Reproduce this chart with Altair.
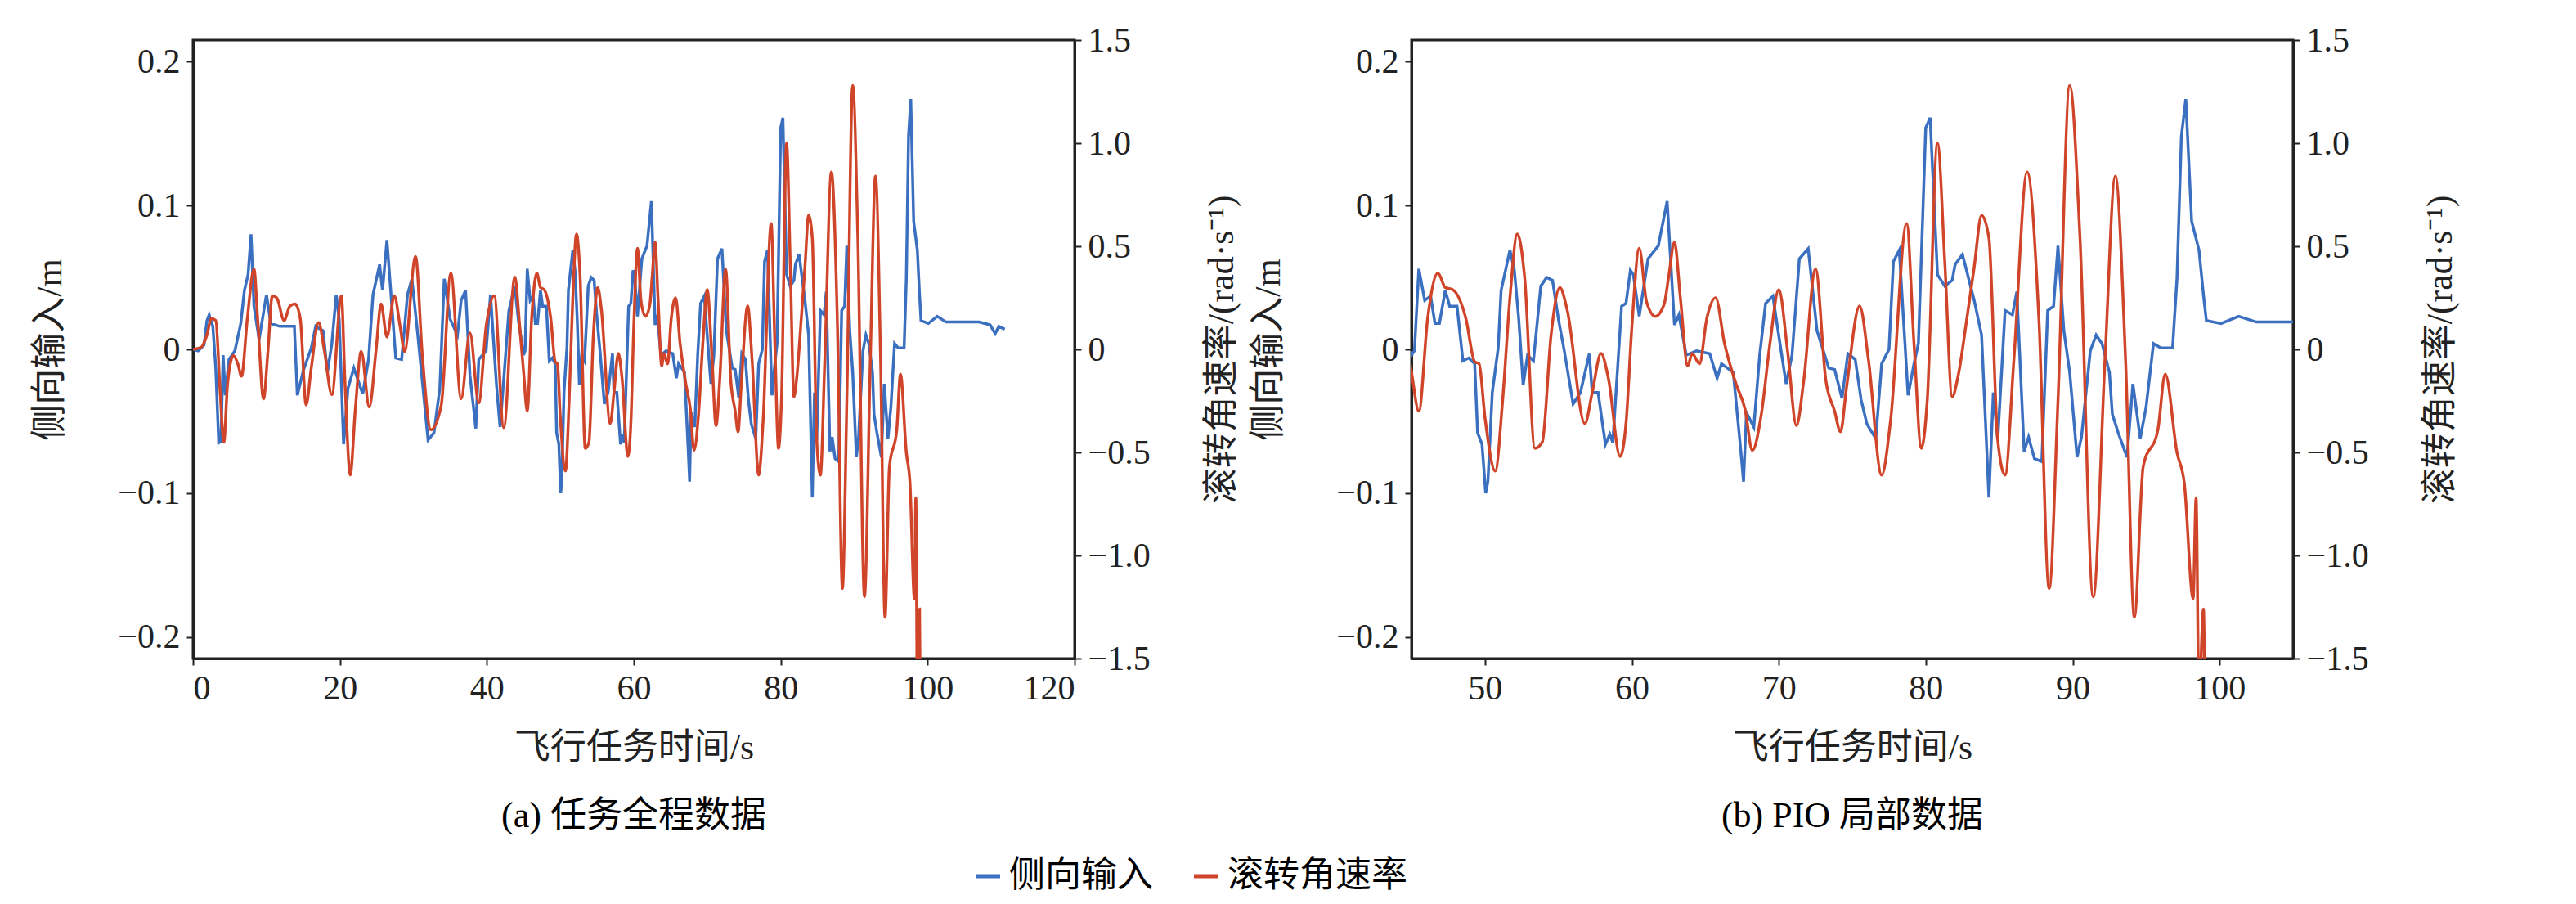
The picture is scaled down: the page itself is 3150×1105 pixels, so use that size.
import altair as alt
import pandas as pd

blue_t = [0,0.7,1.5,1.9,2.2,2.7,3.1,3.5,3.8,4.1,4.4,4.9,5.7,6.5,7.0,7.5,7.9,8.3,9.0,10.0,10.6,11.8,13.8,14.2,15.0,16.1,16.7,17.7,18.3,18.9,19.5,19.9,20.5,21.1,21.9,23.1,23.9,24.5,25.4,25.8,26.4,27.6,28.4,29.2,29.8,30.6,32.0,32.8,33.6,34.2,35.0,36.0,36.5,37.1,37.7,38.5,38.9,39.9,40.5,41.3,41.8,42.3,43.0,43.8,44.3,
          45.0,45.2,45.5,45.9,46.3,46.6,46.9,47.3,47.6,48.1,48.5,48.9,49.3,49.5,49.8,50.05,50.2,50.5,50.9,51.1,51.7,52.0,52.3,52.6,52.9,53.3,53.8,54.2,54.6,55.0,55.4,56.0,56.5,57.1,57.3,57.7,58.2,58.5,58.7,59.3,59.6,59.9,60.1,60.5,61.1,61.8,62.4,62.9,63.2,63.7,64.4,65.3,65.8,66.1,66.9,67.4,67.6,67.8,68.3,68.7,69.1,69.6,69.9,70.5,70.9,71.4,72.0,72.6,73.4,73.8,74.3,74.7,75.2,75.6,76.0,76.6,77.0,77.5,77.8,78.2,78.8,79.2,79.5,80.0,80.3,80.8,81.3,81.8,82.0,82.5,83.3,83.8,84.3,84.6,84.9,85.4,85.9,86.2,86.7,87.0,87.4,87.9,88.3,88.7,89.0,89.4,89.8,90.3,90.6,91.2,91.6,92.0,92.5,92.7,93.1,93.7,94.1,94.6,95.0,95.5,96.0,96.8,97.1,97.4,97.7,98.1,98.6,98.9,99.1,100.1,101.3,102.5,105.0,107.0,108.5,109.2,109.7,110.5]
blue_v = [0,-0.001,0.003,0.020,0.024,0.016,-0.013,-0.065,-0.064,-0.004,-0.032,-0.007,-0.001,0.018,0.041,0.052,0.080,0.030,0.007,0.038,0.018,0.016,0.016,-0.032,-0.015,0.001,0.016,0.013,-0.016,0.004,0.038,0.021,-0.066,-0.027,-0.013,-0.031,-0.007,0.038,0.059,0.041,0.076,-0.006,-0.007,0.038,0.049,0.010,-0.063,-0.058,-0.027,0.049,0.021,0.010,0.034,0.041,-0.018,-0.055,-0.007,-0.001,0.038,-0.024,-0.054,-0.021,0.027,0.044,0.020,
          -0.004,-0.001,0.056,0.034,0.037,0.018,0.018,0.041,0.030,0.030,-0.008,-0.006,-0.010,-0.058,-0.066,-0.100,-0.092,-0.030,0.001,0.041,0.069,0.055,0.021,-0.025,-0.004,-0.008,0.044,0.050,0.048,0.021,-0.001,-0.038,-0.030,-0.003,-0.030,-0.030,-0.066,-0.059,-0.065,0.030,0.032,0.055,0.052,0.023,0.063,0.072,0.103,0.017,0.024,-0.004,-0.001,-0.003,-0.020,-0.010,-0.016,-0.069,-0.092,-0.044,-0.054,-0.004,0.032,0.037,0.016,-0.024,-0.004,0.063,0.070,0.013,-0.013,-0.014,-0.034,-0.003,-0.007,-0.035,-0.052,-0.062,-0.010,0.000,0.061,0.069,-0.032,-0.010,0.004,0.154,0.161,0.052,0.044,0.048,0.059,0.066,0.034,0.010,-0.103,-0.030,-0.063,0.027,0.024,0.040,-0.071,-0.061,-0.076,-0.078,0.027,0.030,0.072,0.013,-0.016,-0.075,-0.061,-0.001,0.010,0.004,-0.016,-0.045,-0.058,-0.075,-0.024,-0.062,-0.040,0.004,0.001,0.001,0.049,0.148,0.174,0.089,0.069,0.038,0.020,0.018,0.023,0.019,0.019,0.019,0.017,0.011,0.016,0.014]

red_t = [0,1.1,1.9,2.5,3.1,3.7,4.2,4.7,5.5,6.1,6.6,7.4,8.3,8.8,9.6,10.2,10.8,11.4,12.4,13.2,13.9,14.6,15.4,16.1,17.1,17.9,18.9,20.2,20.7,21.4,22.1,22.9,24.0,24.9,25.6,26.4,27.4,28.2,28.8,30.3,31.2,32.4,33.8,35.1,36.5,37.7,38.9,39.9,41.0,42.3,43.8,44.5,
         45.0,45.5,46.1,46.8,47.3,47.8,48.7,49.3,49.6,50.0,50.7,51.2,51.7,52.2,52.7,53.4,53.9,54.5,55.1,55.6,56.8,57.3,57.9,58.4,59.2,59.6,60.0,60.5,61.0,61.6,62.2,62.5,62.9,63.3,63.8,64.1,64.6,65.1,65.7,66.3,67.1,67.7,68.2,68.8,69.4,70.0,70.6,71.2,71.7,72.5,73.2,73.8,74.2,74.6,75.5,76.1,77.0,77.6,78.7,79.2,79.7,80.1,80.8,81.3,81.8,82.2,82.8,83.3,83.8,84.3,84.9,85.4,86.0,86.9,87.7,88.4,89.0,89.8,90.5,91.4,92.2,92.9,93.6,94.2,94.8,95.8,96.3,97.1,97.6,98.2,98.4,98.6,98.9,99.0]
red_v = [0,0.01,0.07,0.15,0.14,-0.21,-0.45,-0.17,-0.03,-0.07,-0.13,0.15,0.39,0.15,-0.24,-0.01,0.26,0.25,0.14,0.21,0.22,0.15,-0.27,-0.09,0.13,-0.01,-0.22,0.26,-0.17,-0.61,-0.29,-0.01,-0.28,-0.01,0.22,0.06,0.26,0.11,-0.01,0.45,-0.02,-0.39,-0.27,0.37,-0.24,0.08,-0.26,0.11,0.26,-0.38,0.35,0.10,
         -0.11,-0.30,0.15,0.37,0.30,0.29,0.15,-0.06,-0.07,-0.33,-0.59,-0.25,0.25,0.56,0.35,-0.48,-0.45,0.07,0.30,0.19,-0.36,-0.21,-0.02,-0.14,-0.52,-0.36,0.11,0.49,0.23,0.16,0.22,0.35,0.52,0.25,-0.08,-0.02,-0.07,0.15,0.25,0.03,-0.17,-0.29,-0.49,-0.32,0.03,0.29,-0.01,-0.37,-0.15,0.39,-0.15,-0.30,-0.40,-0.19,0.21,-0.05,-0.61,-0.35,0.61,0.03,-0.48,-0.25,1.00,0.42,-0.23,-0.13,0.15,0.40,0.65,0.54,-0.44,-0.61,-0.05,0.86,0.15,-1.16,-0.25,1.28,0.54,-1.20,-0.05,0.84,-0.05,-1.30,-0.57,-0.39,-0.12,-0.50,-0.65,-1.21,-0.72,-1.70,-1.26,-1.70]

blue_df = pd.DataFrame({"t": blue_t, "v": blue_v, "s": "侧向输入"})
red_df = pd.DataFrame({"t": red_t, "v": red_v, "s": "滚转角速率"})

FONT = "Liberation Serif, Noto Sans CJK SC"
BLUE, RED = "#3b6fc0", "#d0452a"
color = alt.Color("s:N", title=None,
                  scale=alt.Scale(domain=["侧向输入", "滚转角速率"], range=[BLUE, RED]),
                  legend=alt.Legend(orient="none", legendX=950, legendY=1000, direction="horizontal",
                                    symbolType="stroke", symbolStrokeWidth=5, symbolSize=900,
                                    labelFont=FONT, labelFontSize=44, labelLimit=0, columnPadding=40))

lab = "datum.value==0?'0':replace(format(datum.value,'.1f'),'-','−')"

def panel(dom, ticks, caption):
    xenc = alt.X("t:Q", scale=alt.Scale(domain=dom, nice=False, zero=False),
                 axis=alt.Axis(values=ticks, title="飞行任务时间/s", titlePadding=30, format="d"))
    b = alt.Chart(blue_df[(blue_df.t >= dom[0]-1) & (blue_df.t <= dom[1]+1)]).mark_line(
        strokeWidth=3.5, clip=True).encode(
        x=xenc,
        y=alt.Y("v:Q", scale=alt.Scale(domain=[-0.215, 0.215], nice=False),
                axis=alt.Axis(values=[-0.2, -0.1, 0, 0.1, 0.2], labelExpr=lab,
                              title="侧向输入/m", titlePadding=60)),
        color=color)
    r = alt.Chart(red_df[(red_df.t >= dom[0]-1) & (red_df.t <= dom[1]+1)]).mark_line(
        strokeWidth=3.5, clip=True, interpolate="monotone").encode(
        x=xenc,
        y=alt.Y("v:Q", scale=alt.Scale(domain=[-1.5, 1.5], nice=False),
                axis=alt.Axis(orient="right", values=[-1.5, -1.0, -0.5, 0, 0.5, 1.0, 1.5],
                              labelExpr=lab, title="滚转角速率/(rad·s⁻¹)",
                              titleAngle=270, titlePadding=110)),
        color=color)
    return alt.layer(b, r).resolve_scale(y="independent").properties(
        width=1078, height=756,
        title=alt.TitleParams(caption, orient="bottom", offset=40, font=FONT, fontSize=44,
                              fontWeight="normal"))

a = panel([0, 120], [0, 20, 40, 60, 80, 100, 120], "(a) 任务全程数据")
bpanel = panel([45, 105], [50, 60, 70, 80, 90, 100], "(b) PIO 局部数据")

chart = alt.hconcat(a, bpanel, spacing=10).configure_axis(
    labelFont=FONT, titleFont=FONT, labelFontSize=42, titleFontSize=44, titleFontWeight="normal",
    labelColor="#222", titleColor="#222", domainColor="#222", tickColor="#222",
    domainWidth=3, tickWidth=2, tickSize=8, grid=False, labelPadding=8
).configure_view(stroke="#222", strokeWidth=3).properties(padding={"left": 30, "top": 18, "right": 10, "bottom": 10})

chart.save("out.html", embed_options={"renderer": "svg", "actions": False})
